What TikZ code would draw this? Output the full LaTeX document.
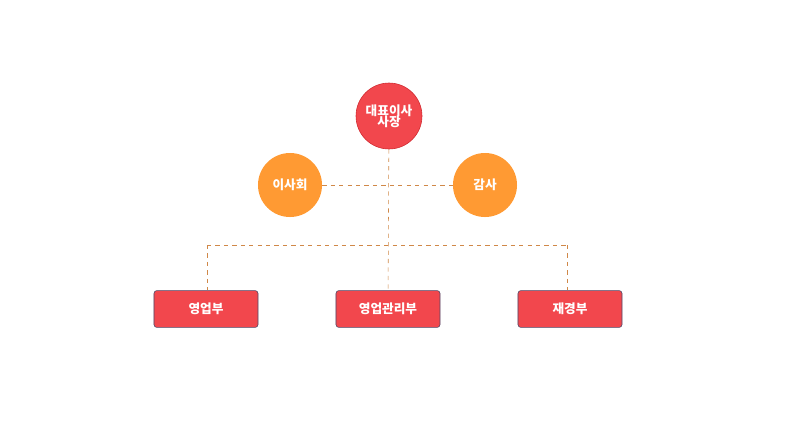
\documentclass[tikz,border=0pt]{standalone}
\usepackage{fontspec}
\setmainfont{Noto Sans CJK KR}
\definecolor{headred}{HTML}{F2474D}
\definecolor{headedge}{HTML}{D02A30}
\definecolor{sideorange}{HTML}{FF9A33}
\definecolor{boxedge}{HTML}{4A4A6A}
\definecolor{linkcol}{HTML}{D08848}
\begin{document}
\begin{tikzpicture}[x=0.025cm, y=-0.025cm,
  every node/.style={text=white, font=\bfseries\small, align=center},
  head/.style={circle, fill=headred, draw=headedge, minimum size=1.65cm, inner sep=0pt},
  side/.style={circle, fill=sideorange, minimum size=1.6cm, inner sep=0pt},
  dept/.style={rectangle, rounded corners=2pt, fill=headred, draw=boxedge, minimum width=2.6cm, minimum height=0.92cm},
  link/.style={draw=linkcol, dashed, thin}]
  \useasboundingbox (0,0) rectangle (804,437);
  \node[head] (ceo) at (389,116) {대표이사\\[-3pt]사장};
  \node[side] (board) at (290,185) {이사회};
  \node[side] (audit) at (485,185) {감사};
  \node[dept] (sales) at (206,309) {영업부};
  \node[dept] (salesmgmt) at (388,309) {영업관리부};
  \node[dept] (finance) at (570,309) {재경부};
  \coordinate (busl) at (207,245);
  \coordinate (busr) at (567,245);
  \draw[link] (ceo) -- (salesmgmt);
  \draw[link] (board) -- (audit);
  \draw[link] (busl) -- (busr);
  \draw[link] (busl) -- (busl |- sales.north);
  \draw[link] (busr) -- (busr |- finance.north);
\end{tikzpicture}
\end{document}
